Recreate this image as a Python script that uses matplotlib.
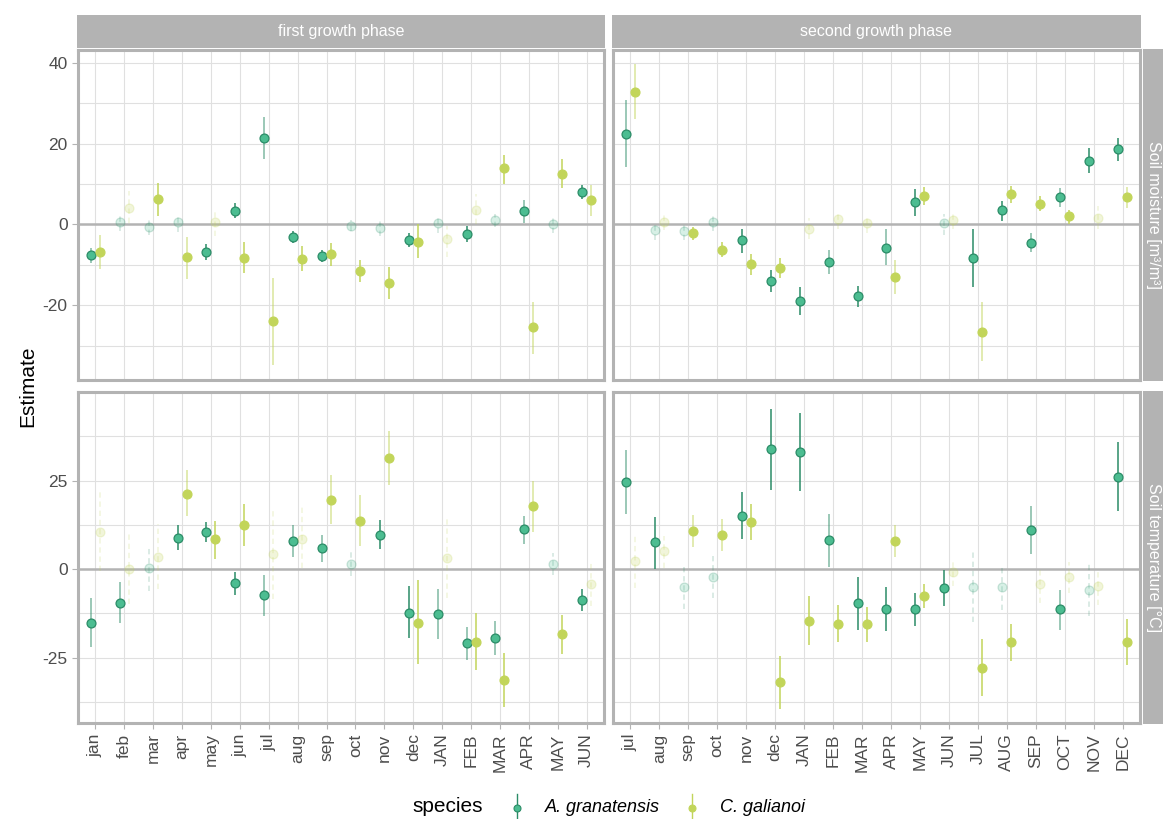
import matplotlib
matplotlib.use("Agg")
import matplotlib.pyplot as plt
from matplotlib.lines import Line2D
import numpy as np

plt.rcParams['font.family'] = ['Liberation Sans', 'DejaVu Sans']

# ---------------- data ----------------
months_first = ['jan', 'feb', 'mar', 'apr', 'may', 'jun', 'jul', 'aug', 'sep', 'oct', 'nov', 'dec',
                'JAN', 'FEB', 'MAR', 'APR', 'MAY', 'JUN']
months_second = ['jul', 'aug', 'sep', 'oct', 'nov', 'dec', 'JAN', 'FEB', 'MAR', 'APR', 'MAY', 'JUN',
                 'JUL', 'AUG', 'SEP', 'OCT', 'NOV', 'DEC']
phases = ['first growth phase', 'second growth phase']
variables = ['Soil moisture [m\u00b3/m\u00b3]', 'Soil temperature [\u00b0C]']
species = ['A. granatensis', 'C. galianoi']

# significance: 2 = strong, 1 = moderate, 0 = not significant
# Soil moisture, first growth phase
sm1_g_est = [-7.6, 0.6, -0.6, 0.7, -6.8, 3.4, 21.4, -3.0, -7.7, -0.3, -0.9, -3.9, 0.3, -2.3, 1.1, 3.4, 0.2, 8.0]
sm1_g_lo = [-9.6, -1.5, -2.5, -1.8, -8.7, 1.6, 16.2, -4.6, -9.2, -1.6, -2.9, -5.6, -2.1, -4.4, -0.7, 0.3, -2.1, 6.4]
sm1_g_hi = [-5.7, 2.1, 1.2, 2.1, -4.9, 5.2, 26.6, -1.6, -6.4, 1.0, 1.0, -2.2, 1.9, -0.4, 2.7, 6.1, 1.6, 9.7]
sm1_g_sig = [1, 0, 0, 0, 2, 2, 1, 2, 2, 0, 0, 2, 0, 2, 0, 1, 0, 2]
sm1_c_est = [-6.7, 4.0, 6.2, -8.1, 0.5, -8.2, -24.0, -8.5, -7.3, -11.4, -14.6, -4.3, -3.7, 3.7, 13.9, -25.4, 12.6, 6.1]
sm1_c_lo = [-10.9, 0.4, 2.1, -13.5, -2.9, -12.1, -34.7, -11.6, -10.2, -14.2, -18.5, -8.3, -8.0, 0.0, 10.1, -32.0, 9.0, 2.2]
sm1_c_hi = [-2.5, 8.2, 10.3, -3.0, 3.1, -4.4, -13.3, -5.4, -4.6, -8.7, -10.6, 0.0, -0.4, 7.6, 17.3, -19.1, 16.2, 9.7]
sm1_c_sig = [1, 0, 2, 1, 0, 2, 1, 2, 2, 2, 2, 2, 0, 0, 2, 1, 2, 1]

# Soil moisture, second growth phase
sm2_g_est = [22.4, -1.4, -1.7, 0.7, -3.9, -14.0, -18.9, -9.2, -17.7, -5.7, 5.5, 0.3, -8.4, 3.5, -4.5, 6.7, 15.8, 18.7]
sm2_g_lo = [14.2, -3.9, -3.9, -1.7, -7.0, -16.8, -22.4, -12.3, -20.4, -10.1, 2.1, -2.5, -15.4, 0.9, -6.8, 4.4, 12.8, 15.6]
sm2_g_hi = [30.7, 0.0, 0.0, 2.3, -1.0, -11.3, -15.4, -6.4, -15.3, -1.2, 8.7, 2.7, -1.2, 5.7, -2.2, 9.1, 18.9, 21.5]
sm2_g_sig = [1, 0, 0, 0, 2, 2, 2, 1, 2, 1, 2, 0, 2, 2, 1, 1, 2, 2]
sm2_c_est = [32.9, 0.7, -2.1, -6.2, -9.9, -10.7, -1.0, 1.3, 0.4, -13.0, 7.1, 1.1, -26.7, 7.6, 5.1, 2.0, 1.7, 6.7]
sm2_c_lo = [26.2, -1.4, -3.9, -8.0, -12.5, -13.2, -3.7, -1.2, -2.0, -17.1, 4.8, -1.2, -33.9, 5.4, 3.3, 0.1, -1.0, 4.1]
sm2_c_hi = [39.7, 2.3, -0.6, -4.4, -7.3, -8.3, 1.7, 2.7, 1.9, -8.9, 9.3, 3.1, -19.3, 9.6, 7.0, 3.7, 4.5, 9.3]
sm2_c_sig = [1, 0, 2, 2, 2, 2, 0, 0, 0, 1, 2, 0, 1, 2, 2, 2, 0, 1]

# Soil temperature, first growth phase
st1_g_est = [-15.2, -9.6, 0.4, 8.8, 10.4, -4.0, -7.3, 8.0, 5.8, 1.5, 9.7, -12.3, -12.6, -20.9, -19.5, 11.2, 1.5, -8.8]
st1_g_lo = [-22.0, -15.3, -6.3, 5.3, 7.5, -7.3, -13.2, 3.4, 2.0, -2.1, 5.6, -19.6, -19.9, -25.6, -24.2, 7.2, -1.6, -11.9]
st1_g_hi = [-8.1, -3.7, 6.6, 12.3, 13.4, -0.8, -1.6, 12.5, 9.6, 5.0, 13.9, -4.9, -5.7, -16.4, -14.7, 15.0, 4.5, -5.7]
st1_g_sig = [1, 1, 0, 2, 2, 2, 1, 1, 1, 0, 2, 2, 1, 1, 1, 1, 0, 2]
st1_c_est = [10.5, 0.0, 3.5, 21.3, 8.4, 12.5, 4.2, 8.6, 19.6, 13.7, 31.4, -15.2, 3.2, -20.5, -31.3, 17.8, -18.4, -4.3]
st1_c_lo = [-0.7, -10.0, -5.6, 14.9, 2.8, 6.6, -8.4, 0.3, 12.6, 6.6, 23.6, -26.9, -8.1, -28.6, -39.0, 10.4, -23.9, -10.5]
st1_c_hi = [22.0, 10.4, 12.6, 27.9, 13.7, 18.4, 17.1, 17.6, 26.5, 20.8, 39.0, -3.2, 14.5, -12.5, -23.7, 24.8, -13.1, 1.7]
st1_c_sig = [0, 0, 0, 1, 2, 2, 0, 0, 1, 1, 1, 2, 0, 2, 2, 1, 2, 0]

# Soil temperature, second growth phase
st2_g_est = [24.5, 7.6, -5.2, -2.2, 15.1, 33.8, 33.1, 8.1, -9.6, -11.4, -11.4, -5.3, -5.1, -5.0, 11.0, -11.4, -5.9, 26.1]
st2_g_lo = [15.5, 0.0, -11.2, -8.2, 8.4, 22.4, 22.1, 0.6, -17.1, -17.5, -16.1, -10.4, -15.0, -11.7, 4.1, -17.2, -13.3, 16.4]
st2_g_hi = [33.6, 14.7, 0.7, 3.7, 21.7, 45.3, 44.2, 15.5, -2.2, -5.2, -6.9, -0.3, 4.9, 0.7, 17.8, -5.8, 1.6, 35.8]
st2_g_sig = [1, 2, 0, 0, 2, 2, 2, 1, 2, 2, 2, 2, 0, 0, 1, 1, 0, 2]
st2_c_est = [2.3, 5.0, 10.8, 9.7, 13.2, -32.0, -14.6, -15.4, -15.5, 8.0, -7.6, -0.9, -28.0, -20.6, -4.1, -2.3, -4.9, -20.5]
st2_c_lo = [-5.4, 0.2, 6.3, 5.1, 8.1, -39.6, -21.5, -20.5, -20.5, 3.3, -11.1, -4.7, -36.0, -25.9, -9.5, -6.8, -10.1, -27.2]
st2_c_hi = [10.3, 9.4, 15.3, 14.1, 18.3, -24.6, -7.6, -10.3, -10.6, 12.5, -4.1, 2.5, -19.9, -15.4, 0.7, 1.9, 0.0, -14.0]
st2_c_sig = [0, 0, 1, 1, 2, 2, 2, 2, 2, 1, 2, 0, 2, 2, 0, 0, 0, 2]

y_major = [[-20, 0, 20, 40], [-25, 0, 25]]
y_minor = [[-30, -10, 10, 30], [-37.5, -12.5, 12.5, 37.5]]
y_lims = [(-38.5, 43.2), (-43.5, 50.0)]

# ---------------- style ----------------
GREEN_LINE = '#2b8c67'
GREEN_FACE = '#4cbd91'
GREEN_EDGE = '#2b8c67'
YEL_LINE = '#c2d55a'
YEL_FACE = '#c2d55a'
YEL_EDGE = '#c2d55a'
GREY70 = '#b3b3b3'
GRID = '#e0e0e0'
TICKCOL = '#4d4d4d'

W, H = 1163, 819
fig = plt.figure(figsize=(W / 100, H / 100), dpi=100)

def fx(px):
    return px / W

def fy(py):
    return 1 - py / H

col_x = [(78, 604), (613, 1140)]
row_y = [(50, 380), (392, 723)]

panels = {
    (0, 0): (sm1_g_est, sm1_g_lo, sm1_g_hi, sm1_g_sig, sm1_c_est, sm1_c_lo, sm1_c_hi, sm1_c_sig),
    (0, 1): (sm2_g_est, sm2_g_lo, sm2_g_hi, sm2_g_sig, sm2_c_est, sm2_c_lo, sm2_c_hi, sm2_c_sig),
    (1, 0): (st1_g_est, st1_g_lo, st1_g_hi, st1_g_sig, st1_c_est, st1_c_lo, st1_c_hi, st1_c_sig),
    (1, 1): (st2_g_est, st2_g_lo, st2_g_hi, st2_g_sig, st2_c_est, st2_c_lo, st2_c_hi, st2_c_sig),
}
labels_by_col = [months_first, months_second]

def draw_series(ax, est, lo, hi, sig, offset, line_c, face_c, edge_c):
    for i in range(len(est)):
        x = i + offset
        s = sig[i]
        if s == 0:
            ls, a_bar, a_pt = (0, (3.5, 2.5)), 0.22, 0.22
        elif s == 1:
            ls, a_bar, a_pt = '-', 0.6, 1.0
        else:
            ls, a_bar, a_pt = '-', 1.0, 1.0
        ax.plot([x, x], [lo[i], hi[i]], color=line_c, lw=1.1, alpha=a_bar,
                linestyle=ls, solid_capstyle='butt', zorder=3)
        ax.plot([x], [est[i]], marker='o', ms=6.4, mfc=face_c, mec=edge_c,
                mew=0.9, alpha=a_pt, linestyle='none', zorder=4)

dodge = 0.155
for r in range(2):
    for c in range(2):
        x0, x1 = col_x[c]
        y0, y1 = row_y[r]
        ax = fig.add_axes([fx(x0), fy(y1), fx(x1) - fx(x0), fy(y0) - fy(y1)])
        ax.set_facecolor('white')
        labels = labels_by_col[c]
        n = len(labels)
        ax.set_xlim(-0.6, n - 1 + 0.6)
        ax.set_ylim(*y_lims[r])
        ax.set_xticks(np.arange(n))
        ax.set_yticks(y_major[r])
        ax.set_yticks(y_minor[r], minor=True)
        ax.grid(True, which='major', color=GRID, lw=0.8, zorder=0)
        ax.grid(True, which='minor', axis='y', color=GRID, lw=0.8, zorder=0)
        ax.set_axisbelow(True)
        ax.axhline(0, color=GREY70, lw=1.8, zorder=2)
        for sp in ax.spines.values():
            sp.set_color(GREY70)
            sp.set_linewidth(2.2)
        ax.tick_params(which='minor', length=0)
        ax.tick_params(which='major', color=GREY70, length=4, width=0.8,
                       labelcolor=TICKCOL, labelsize=12.5)
        if r == 1:
            ax.set_xticklabels(labels, rotation=90, fontsize=12.5)
        else:
            ax.tick_params(axis='x', length=0, labelbottom=False)
        if c == 0:
            ax.set_yticklabels([str(v) for v in y_major[r]])
        else:
            ax.tick_params(axis='y', length=0, labelleft=False)
        ge, gl, gh, gs, ce, cl, ch, cs = panels[(r, c)]
        draw_series(ax, ge, gl, gh, gs, -dodge, GREEN_LINE, GREEN_FACE, GREEN_EDGE)
        draw_series(ax, ce, cl, ch, cs, dodge, YEL_LINE, YEL_FACE, YEL_EDGE)

# strips (top)
for c in range(2):
    x0, x1 = col_x[c]
    sax = fig.add_axes([fx(x0 - 1), fy(48), fx(x1 + 1) - fx(x0 - 1), fy(15) - fy(48)])
    sax.set_facecolor(GREY70)
    sax.set_xticks([]); sax.set_yticks([])
    for sp in sax.spines.values():
        sp.set_visible(False)
    sax.text(0.5, 0.5, phases[c], color='white', fontsize=11.5, ha='center', va='center',
             transform=sax.transAxes)

# strips (right)
for r in range(2):
    y0, y1 = row_y[r]
    sax = fig.add_axes([fx(1143), fy(y1 + 1), fx(1163) - fx(1143), fy(y0 - 1) - fy(y1 + 1)])
    sax.set_facecolor(GREY70)
    sax.set_xticks([]); sax.set_yticks([])
    for sp in sax.spines.values():
        sp.set_visible(False)
    sax.text(0.55, 0.5, variables[r], color='white', fontsize=11.5, ha='center', va='center',
             rotation=-90, transform=sax.transAxes)

# y axis title
fig.text(fx(28), fy(386), 'Estimate', rotation=90, fontsize=15, ha='center', va='center', color='black')

# legend
fig.text(fx(412), fy(807), 'species', fontsize=15, ha='left', va='center', color='black')
key_x = [517, 692]
text_x = [545, 720]
key_colors = [(GREEN_LINE, GREEN_FACE, GREEN_EDGE), (YEL_LINE, YEL_FACE, YEL_EDGE)]
for k in range(2):
    lc, fc, ec = key_colors[k]
    fig.add_artist(Line2D([fx(key_x[k]), fx(key_x[k])], [fy(794), fy(820)], color=lc, lw=1.0,
                          transform=fig.transFigure))
    fig.add_artist(Line2D([fx(key_x[k])], [fy(808)], marker='o', ms=5, mfc=fc, mec=ec, mew=0.8,
                          linestyle='none', transform=fig.transFigure))
    fig.text(fx(text_x[k]), fy(807), species[k], fontsize=13, style='italic', ha='left',
             va='center', color='black')

fig.savefig('out.png', dpi=100)
